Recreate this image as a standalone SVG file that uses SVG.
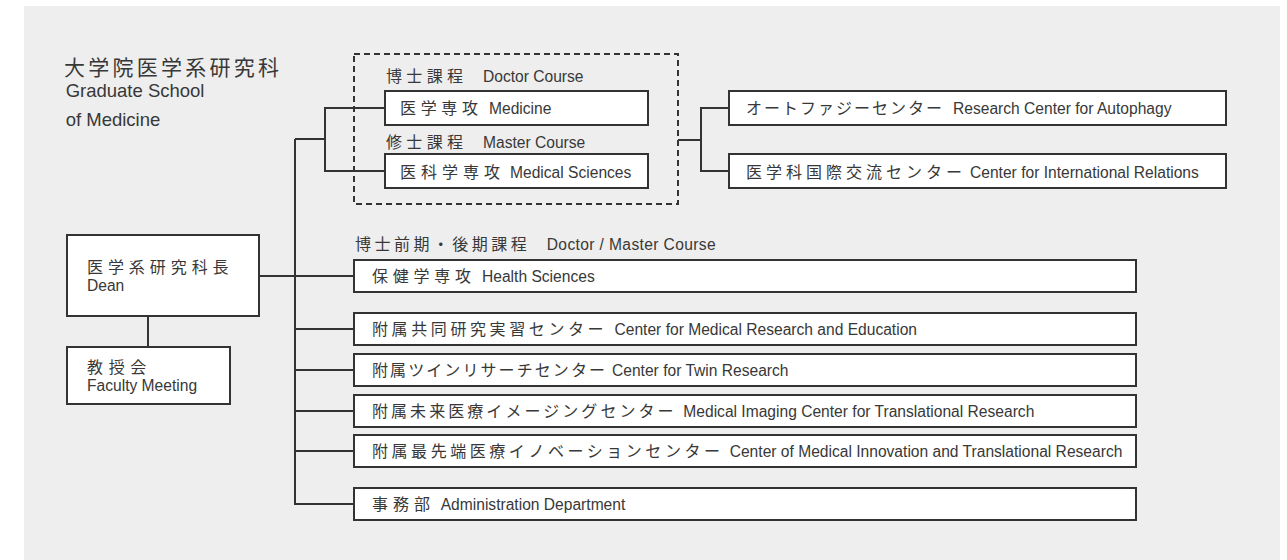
<svg xmlns="http://www.w3.org/2000/svg" width="1287" height="560" viewBox="0 0 1287 560">
<style>
.box{fill:#fff;stroke:#333;stroke-width:2}
.ln{fill:none;stroke:#333;stroke-width:2}
.dash{fill:none;stroke:#333;stroke-width:2;stroke-dasharray:6 4}
.ja{font-family:"Noto Sans CJK JP","Noto Sans CJK SC",sans-serif;font-size:16px;fill:#383838}
.en{font-family:"Liberation Sans",Arial,sans-serif;font-size:15.6px;fill:#383838}
.ttl{font-family:"Noto Sans CJK JP",sans-serif;font-size:21px;fill:#383838}
.tten{font-family:"Liberation Sans",Arial,sans-serif;font-size:18.5px;fill:#383838}
</style>
<rect x="24" y="6" width="1256" height="560" fill="#eeeeee"/>

<g id="title">
<text class="ttl" x="64" y="75" textLength="215">大学院医学系研究科</text>
<text class="tten" x="65.7" y="97.3" textLength="138.7">Graduate School</text>
<text class="tten" x="65.7" y="126">of Medicine</text>
</g>

<g id="connectors">
<path class="ln" d="M295 139 H325"/>
<path class="ln" d="M384 108 H325 V171 H384"/>
<path class="ln" d="M295 139 V504 H353"/>
<path class="ln" d="M260 276 H353"/>
<path class="ln" d="M295 329 H353 M295 370 H353 M295 411 H353 M295 451 H353"/>
<path class="ln" d="M148 317 V346"/>
<path class="ln" d="M678 140 H701"/>
<path class="ln" d="M728 108 H701 V171 H728"/>
</g>

<g id="course-group">
<rect class="dash" x="354" y="54" width="324" height="150"/>
<text class="ja" x="386" y="81.7" textLength="77">博士課程</text>
<text class="en" x="483" y="81.7">Doctor Course</text>
<text class="ja" x="386" y="148" textLength="77">修士課程</text>
<text class="en" x="483" y="148">Master Course</text>
</g>

<g id="medicine">
<rect class="box" x="385" y="91" width="263" height="34"/>
<text class="ja" x="400" y="114" textLength="78">医学専攻</text>
<text class="en" x="489" y="114">Medicine</text>
</g>

<g id="medical-sciences">
<rect class="box" x="385" y="154" width="263" height="34"/>
<text class="ja" x="400" y="177.5" textLength="100">医科学専攻</text>
<text class="en" x="510" y="177.5">Medical Sciences</text>
</g>

<g id="autophagy">
<rect class="box" x="729" y="91" width="497" height="34"/>
<text class="ja" x="746" y="114" textLength="196">オートファジーセンター</text>
<text class="en" x="953" y="114">Research Center for Autophagy</text>
</g>

<g id="international">
<rect class="box" x="729" y="154" width="497" height="34"/>
<text class="ja" x="746" y="177.5" textLength="216">医学科国際交流センター</text>
<text class="en" x="970" y="177.5">Center for International Relations</text>
</g>

<g id="dean">
<rect class="box" x="67" y="235" width="192" height="81"/>
<text class="ja" x="87" y="273" font-size="17" textLength="141.6">医学系研究科長</text>
<text class="en" x="87" y="291">Dean</text>
</g>

<g id="faculty-meeting">
<rect class="box" x="67" y="347" width="163" height="57"/>
<text class="ja" x="87" y="372.7" font-size="17" textLength="59.3">教授会</text>
<text class="en" x="87" y="390.7">Faculty Meeting</text>
</g>

<g id="doctor-master-label">
<text class="ja" x="355" y="250" textLength="171.7">博士前期・後期課程</text>
<text class="en" x="546.7" y="250" textLength="169">Doctor / Master Course</text>
</g>

<g id="health-sciences">
<rect class="box" x="354" y="260" width="782" height="32"/>
<text class="ja" x="372" y="282" textLength="99">保健学専攻</text>
<text class="en" x="482" y="282">Health Sciences</text>
</g>

<g id="medical-research-education">
<rect class="box" x="354" y="313" width="782" height="32"/>
<text class="ja" x="372" y="335" textLength="231.6">附属共同研究実習センター</text>
<text class="en" x="614.5" y="335">Center for Medical Research and Education</text>
</g>

<g id="twin-research">
<rect class="box" x="354" y="354" width="782" height="32"/>
<text class="ja" x="372" y="376" textLength="233">附属ツインリサーチセンター</text>
<text class="en" x="612" y="376">Center for Twin Research</text>
</g>

<g id="medical-imaging">
<rect class="box" x="354" y="395" width="782" height="32"/>
<text class="ja" x="372" y="416.5" textLength="301.6">附属未来医療イメージングセンター</text>
<text class="en" x="683.3" y="416.5">Medical Imaging Center for Translational Research</text>
</g>

<g id="medical-innovation">
<rect class="box" x="354" y="435" width="782" height="32"/>
<text class="ja" x="372" y="457" textLength="348">附属最先端医療イノベーションセンター</text>
<text class="en" x="729.7" y="457">Center of Medical Innovation and Translational Research</text>
</g>

<g id="administration">
<rect class="box" x="354" y="488" width="782" height="32"/>
<text class="ja" x="372" y="510" textLength="58">事務部</text>
<text class="en" x="440.7" y="510">Administration Department</text>
</g>
</svg>
